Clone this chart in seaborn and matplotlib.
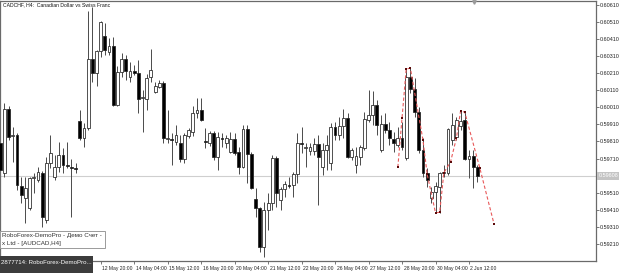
import numpy as np
import pandas as pd
import matplotlib
matplotlib.use("Agg")
import matplotlib.pyplot as plt
import matplotlib.transforms as mtransforms
from matplotlib.patches import Rectangle
import seaborn as sns

# ---------------- data (CADCHF, H4) ----------------
opens = [0.59801, 0.59625, 0.60000, 0.59842, 0.59848, 0.59549, 0.59479, 0.59420, 0.59596, 0.59584,
         0.59625, 0.59350, 0.59683, 0.59602, 0.59661, 0.59731, 0.59672, 0.59661, 0.59655, 0.59930,
         0.59830, 0.59889, 0.60293, 0.60211, 0.60340, 0.60428, 0.60334, 0.60369, 0.60024, 0.60217,
         0.60293, 0.60188, 0.60223, 0.60211, 0.60065, 0.60059, 0.60188, 0.60100, 0.60129, 0.60153,
         0.59825, 0.59825, 0.59807, 0.59801, 0.59707, 0.59842, 0.59865, 0.59977, 0.59994, 0.59813,
         0.59801, 0.59859, 0.59719, 0.59830, 0.59801, 0.59748, 0.59825, 0.59748, 0.59661, 0.59883,
         0.59737, 0.59473, 0.59420, 0.59192, 0.59408, 0.59449, 0.59713, 0.59467, 0.59532, 0.59555,
         0.59555, 0.59619, 0.59801, 0.59772, 0.59754, 0.59754, 0.59795, 0.59661, 0.59760, 0.59683,
         0.59895, 0.59848, 0.59901, 0.59948, 0.59719, 0.59672, 0.59719, 0.59772, 0.59936, 0.59965,
         0.60024, 0.59760, 0.59912, 0.59877, 0.59825, 0.59790, 0.59830, 0.59713, 0.60188, 0.60117,
         0.59983, 0.59760, 0.59625, 0.59479, 0.59514, 0.59543, 0.59625, 0.59625, 0.59819, 0.59836,
         0.59901, 0.59936, 0.59707, 0.59725, 0.59661]
highs = [0.59813, 0.60035, 0.60018, 0.59895, 0.59859, 0.59602, 0.59602, 0.59602, 0.59625, 0.59661,
         0.59637, 0.59719, 0.59848, 0.59731, 0.59807, 0.59772, 0.59807, 0.59707, 0.59683, 0.59994,
         0.59918, 0.60574, 0.60598, 0.60346, 0.60516, 0.60504, 0.60416, 0.60422, 0.60252, 0.60328,
         0.60317, 0.60276, 0.60258, 0.60287, 0.60112, 0.60205, 0.60352, 0.60158, 0.60170, 0.60164,
         0.59994, 0.59859, 0.59907, 0.59848, 0.59859, 0.59889, 0.60018, 0.60065, 0.60065, 0.59889,
         0.59871, 0.59871, 0.59865, 0.59859, 0.59848, 0.59865, 0.59859, 0.59778, 0.59907, 0.59907,
         0.59748, 0.59537, 0.59426, 0.59455, 0.59508, 0.59731, 0.59725, 0.59543, 0.59578, 0.59602,
         0.59631, 0.59859, 0.59895, 0.59801, 0.59801, 0.59830, 0.59848, 0.59801, 0.59848, 0.59918,
         0.59924, 0.59953, 0.60000, 0.59977, 0.59772, 0.59778, 0.59790, 0.59983, 0.60112, 0.60106,
         0.60053, 0.59965, 0.59977, 0.59924, 0.59865, 0.59895, 0.59924, 0.60235, 0.60240, 0.60182,
         0.60012, 0.59830, 0.59655, 0.59543, 0.59572, 0.59631, 0.59672, 0.59889, 0.59977, 0.59953,
         0.59989, 0.59983, 0.59760, 0.59760, 0.59672]
lows = [0.59631, 0.59602, 0.59819, 0.59689, 0.59526, 0.59449, 0.59332, 0.59408, 0.59508, 0.59572,
        0.59309, 0.59332, 0.59655, 0.59584, 0.59631, 0.59625, 0.59655, 0.59367, 0.59625, 0.59819,
        0.59778, 0.59877, 0.60158, 0.60135, 0.60305, 0.60317, 0.60317, 0.60018, 0.60018, 0.60188,
        0.60170, 0.60158, 0.60199, 0.59977, 0.59865, 0.59994, 0.60158, 0.60094, 0.60123, 0.59801,
        0.59801, 0.59672, 0.59790, 0.59690, 0.59683, 0.59830, 0.59842, 0.59948, 0.59930, 0.59772,
        0.59784, 0.59701, 0.59643, 0.59778, 0.59772, 0.59742, 0.59731, 0.59619, 0.59655, 0.59567,
        0.59532, 0.59367, 0.59163, 0.59133, 0.59291, 0.59408, 0.59426, 0.59408, 0.59485, 0.59537,
        0.59485, 0.59567, 0.59742, 0.59661, 0.59731, 0.59731, 0.59438, 0.59614, 0.59643, 0.59643,
        0.59819, 0.59819, 0.59830, 0.59713, 0.59701, 0.59625, 0.59672, 0.59760, 0.59924, 0.59907,
        0.59848, 0.59748, 0.59859, 0.59790, 0.59748, 0.59778, 0.59760, 0.59701, 0.60094, 0.59953,
        0.59742, 0.59602, 0.59543, 0.59449, 0.59391, 0.59391, 0.59602, 0.59614, 0.59790, 0.59819,
        0.59877, 0.59701, 0.59596, 0.59537, 0.59572]
closes = [0.59643, 0.60000, 0.59836, 0.59848, 0.59555, 0.59497, 0.59537, 0.59596, 0.59602, 0.59631,
          0.59367, 0.59683, 0.59742, 0.59661, 0.59731, 0.59672, 0.59666, 0.59655, 0.59649, 0.59830,
          0.59889, 0.60293, 0.60211, 0.60340, 0.60510, 0.60346, 0.60369, 0.60024, 0.60217, 0.60293,
          0.60223, 0.60223, 0.60211, 0.60059, 0.60071, 0.60182, 0.60229, 0.60135, 0.60153, 0.59830,
          0.59830, 0.59819, 0.59848, 0.59707, 0.59848, 0.59877, 0.59977, 0.59994, 0.59936, 0.59807,
          0.59859, 0.59719, 0.59836, 0.59825, 0.59830, 0.59825, 0.59742, 0.59661, 0.59883, 0.59737,
          0.59537, 0.59420, 0.59192, 0.59408, 0.59449, 0.59713, 0.59508, 0.59532, 0.59561, 0.59549,
          0.59619, 0.59801, 0.59795, 0.59778, 0.59778, 0.59795, 0.59719, 0.59760, 0.59790, 0.59895,
          0.59848, 0.59901, 0.59948, 0.59719, 0.59760, 0.59725, 0.59778, 0.59942, 0.59965, 0.60024,
          0.59907, 0.59912, 0.59877, 0.59830, 0.59801, 0.59830, 0.59778, 0.60188, 0.60117, 0.59983,
          0.59760, 0.59625, 0.59584, 0.59514, 0.59549, 0.59625, 0.59631, 0.59883, 0.59907, 0.59936,
          0.59930, 0.59707, 0.59725, 0.59661, 0.59608]

# zigzag pattern drawn on the chart (bar index, price)
zz_bar = [95, 96, 97, 98, 101, 102, 104, 105, 106, 107.6, 109, 110, 111, 114.6, 118]
zz_price = [0.59659, 0.59946, 0.60235, 0.60239, 0.59819, 0.59619, 0.59392, 0.59395, 0.59627,
            0.59691, 0.59830, 0.59990, 0.59981, 0.59653, 0.59325]

current_price = 0.59608
price_ticks = [0.59210, 0.59310, 0.59410, 0.59510, 0.59610, 0.59710, 0.59810, 0.59910,
               0.60010, 0.60110, 0.60210, 0.60310, 0.60410, 0.60510, 0.60610]
time_tick_bars = [24, 32, 40, 48, 56, 64, 72, 80, 88, 96, 104, 112]
time_tick_labels = ["12 May 20:00", "14 May 04:00", "15 May 12:00", "16 May 20:00",
                    "20 May 04:00", "21 May 12:00", "22 May 20:00", "26 May 04:00",
                    "27 May 12:00", "28 May 20:00", "30 May 04:00", "2 Jun 12:00"]
title_text = "CADCHF, H4:  Canadian Dollar vs Swiss Franc"

# ---------------- figure ----------------
sns.set_style("white")
plt.rcParams['font.family'] = ['Liberation Sans', 'DejaVu Sans']

W, H = 625, 273
fig = plt.figure(figsize=(W / 100, H / 100), dpi=100)
fig.patch.set_facecolor("white")
ax = fig.add_axes([0, 12 / H, 596 / W, 260 / H])
ax.set_facecolor("white")

df = pd.DataFrame({"bar": np.arange(len(opens)), "open": opens, "high": highs,
                   "low": lows, "close": closes})
df["bull"] = df["close"] >= df["open"]
df["bottom"] = df[["open", "close"]].min(axis=1)
df["height"] = (df["close"] - df["open"]).abs().clip(lower=0.000025)

# current price line
ax.axhline(current_price, color="#cfcfcf", lw=0.8, zorder=1)

# wicks
ax.vlines(df["bar"], df["low"], df["high"], color="#4a4a4a", lw=0.7, zorder=2)
# bodies
ax.bar(df["bar"], df["height"], bottom=df["bottom"], width=0.68,
       color=np.where(df["bull"], "white", "black"), edgecolor="#222222",
       linewidth=0.55, zorder=3)

# zigzag
zz = pd.DataFrame({"bar": zz_bar, "price": zz_price})
sns.lineplot(data=zz, x="bar", y="price", ax=ax, color="#e8595a", lw=0.8,
             linestyle=(0, (3, 2)), sort=False, zorder=4, legend=False)
sns.scatterplot(data=zz, x="bar", y="price", ax=ax, color="#5a0a0a", marker="s",
                s=4, linewidth=0, zorder=5, legend=False)

ax.set_xlim(-0.062, 142.35)
ax.set_ylim(0.591095, 0.606331)

# axes styling
for side, sp in ax.spines.items():
    sp.set_visible(True)
    sp.set_color("#6a6a6a")
    sp.set_linewidth(0.9)

ax.yaxis.tick_right()
ax.set_yticks(price_ticks)
# the tick at the current price is covered by the price label
ax.set_yticklabels(["" if abs(p - current_price) < 0.0002 else f"{p:.5f}" for p in price_ticks])
ax.tick_params(axis="y", which="both", right=True, left=False, length=2, width=0.5,
               pad=1, labelsize=3.9, labelcolor="#222222", color="#444444")
ax.set_xticks(time_tick_bars)
ax.set_xticklabels(time_tick_labels)
ax.tick_params(axis="x", which="both", bottom=True, length=2.5, width=0.5, pad=1.0,
               labelsize=3.6, labelcolor="#222222", color="#444444")
offset = mtransforms.ScaledTranslation(1.5 / 100, 0, fig.dpi_scale_trans)
for lbl in ax.get_xticklabels():
    lbl.set_ha("left")
    lbl.set_transform(lbl.get_transform() + offset)
ax.set_xlabel("")
ax.set_ylabel("")

# current price label on the axis
ax.text(1.004, current_price, f"{current_price:.5f}", transform=ax.get_yaxis_transform(),
        ha="left", va="center", fontsize=3.9, color="white",
        bbox=dict(boxstyle="square,pad=0.2", facecolor="#c4c4c4", edgecolor="none"),
        zorder=6, clip_on=False)

# title
fig.text(3 / W, 1 - 5 / H, title_text, ha="left", va="center", fontsize=3.7, color="#111111")

# chart-shift marker at the top
ax.plot([113.2], [0.60628], marker="v", ms=2.5, color="#9a9a9a", clip_on=False, zorder=6)

# overlaid popup window (screenshot artifact)
fig.patches.append(Rectangle((0, (H - 248) / H), 105 / W, 17 / H, transform=fig.transFigure,
                             facecolor="white", edgecolor="#9a9a9a", lw=0.7, zorder=10))
fig.text(2 / W, 1 - 235.5 / H, "RoboForex-DemoPro - Демо Счет -", ha="left", va="center",
         fontsize=4.5, color="#333333", zorder=11)
fig.text(2 / W, 1 - 243.5 / H, "x Ltd - [AUDCAD,H4]", ha="left", va="center",
         fontsize=4.5, color="#333333", zorder=11)

# taskbar thumbnail (screenshot artifact)
fig.patches.append(Rectangle((0, 0), 93 / W, 17 / H, transform=fig.transFigure,
                             facecolor="#3c3c3c", edgecolor="none", zorder=10))
fig.text(1 / W, 1 - 263 / H, "2877714: RoboForex-DemoPro...", ha="left", va="center",
         fontsize=4.4, color="white", zorder=11)

fig.savefig("out.png", dpi=100, facecolor="white")
